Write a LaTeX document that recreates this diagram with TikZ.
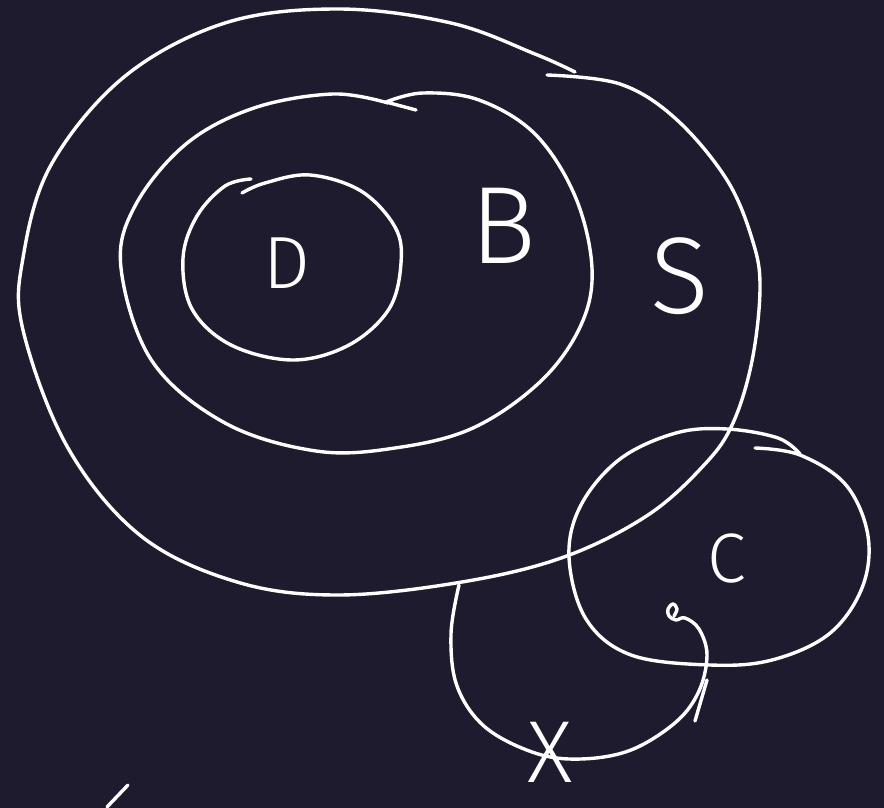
\documentclass[tikz,border=0pt]{standalone}
\usepackage{fontspec}
\IfFontExistsTF{Fira Sans Light}{\newfontfamily\handfont{Fira Sans Light}}{%
  \IfFontExistsTF{DejaVu Sans ExtraLight}{\newfontfamily\handfont{DejaVu Sans ExtraLight}}{%
    \newfontfamily\handfont{Fira Sans}}}
\usetikzlibrary{positioning}
\definecolor{boardnavy}{RGB}{30,27,46}

\begin{document}
\begin{tikzpicture}[x=1pt, y=-1pt,
    pen/.style={white, line width=3.4pt, line cap=round, line join=round},
    letter/.style={text=white, inner sep=0pt, anchor=base}]
    % Board
    \fill[boardnavy] (0,0) rectangle (884,808);
    \useasboundingbox (0,0) rectangle (884,808);

    % Outer region S
    \draw[pen] plot[smooth, tension=0.6] coordinates {(547,75) (620,84) (676,119) (727,180) (753,242) (760,289) (752,361) (733,423) (705,464) (648,515) (564,557) (462,582) (338,595) (237,582) (141,536) (68,448) (23,330) (23,258) (51,165) (124,77) (225,23) (338,9) (451,23) (535,54) (575,72)};

    % Middle region B
    \draw[pen] (416,110) -- (386,102) plot[smooth, tension=0.6] coordinates {(386,102) (423,93) (479,100) (535,134) (575,196) (592,268) (581,325) (541,381) (473,428) (395,448) (316,451) (225,423) (152,361) (121,268) (135,206) (186,144) (254,108) (333,94) (388,103)};

    % Inner region D
    \draw[pen] plot[smooth, tension=0.6] coordinates {(242,193) (265,183) (310,175) (361,191) (395,227) (401,263) (389,309) (349,345) (293,360) (231,345) (192,309) (183,258) (197,216) (225,186) (251,179)};

    % Region C
    \draw[pen] plot[smooth, tension=0.6] coordinates {(755,448) (800,455) (846,485) (868,536) (862,588) (829,634) (772,660) (710,665) (631,655) (586,619) (569,557) (581,505) (620,459) (676,433) (727,429) (778,438) (800,454)};

    % Path X into C
    \draw[pen] plot[smooth, tension=0.6] coordinates {(459,585) (451,634) (457,686) (485,727) (535,753) (581,759) (631,750) (676,722) (699,691) (707,655) (699,629) (685,618) (676,620) (669,616) (668,609) (673,604) (677,609) (674,616)};
    \draw[pen] (695,721) -- (707,680);

    % Stray stroke
    \draw[pen] (107,807) -- (128,785);

    % Labels
    \node[letter, font=\handfont\fontsize{74}{74}\selectfont] (labelD) at (287,288) {D};
    \node[letter, font=\handfont\fontsize{110}{110}\selectfont] (labelB) at (503,263) {B};
    \node[letter, font=\handfont\fontsize{109}{109}\selectfont] (labelS) at (680,313) {S};
    \node[letter, font=\handfont\fontsize{70}{70}\selectfont] (labelC) at (727,582) {C};
    \node[letter, font=\handfont\fontsize{88}{88}\selectfont] (labelX) at (550,782) {X};
\end{tikzpicture}
\end{document}
